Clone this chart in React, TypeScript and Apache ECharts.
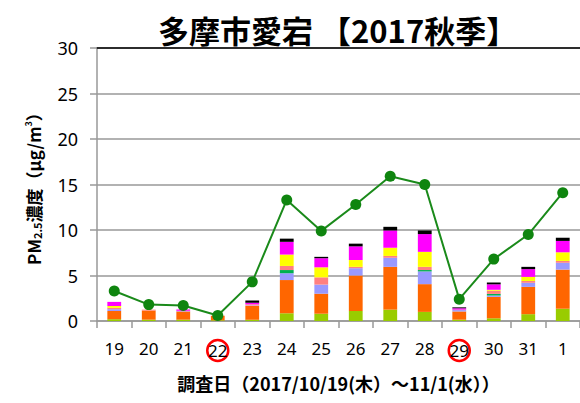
import React, { useEffect, useRef } from "react";
import * as echarts from "echarts";

const days = ["19", "20", "21", "22", "23", "24", "25", "26", "27", "28", "29", "30", "31", "1"];
const circled = ["22", "29"];
const yTicks = [0, 5, 10, 15, 20, 25, 30];

const compNames = ["c1", "c2", "c3", "c4", "c5", "c6", "c7", "c8"];
const compColors = ["#99CC00", "#FF6600", "#9999FF", "#00B050", "#FF8080", "#FFFF00", "#FF00FF", "#000000"];
const c1 = [0.2, 0.15, 0.15, 0.08, 0.15, 0.85, 0.8, 1.1, 1.25, 1.0, 0.15, 0.3, 0.75, 1.35];
const c2 = [0.9, 1.0, 0.9, 0.5, 1.5, 3.65, 2.2, 3.9, 4.7, 3.05, 0.9, 2.35, 3.0, 4.3];
const c3 = [0.2, 0, 0.07, 0, 0.05, 0.75, 1.0, 0.8, 1.0, 1.4, 0.15, 0.15, 0.45, 0.75];
const c4 = [0, 0, 0, 0, 0, 0.35, 0, 0, 0, 0.15, 0, 0.18, 0, 0];
const c5 = [0.15, 0.1, 0, 0, 0.15, 0.45, 0.8, 0.15, 0.2, 0.35, 0.05, 0.35, 0.2, 0.2];
const c6 = [0.2, 0, 0, 0, 0, 1.25, 1.1, 0.75, 0.9, 1.65, 0, 0.1, 0.45, 0.95];
const c7 = [0.45, 0, 0.15, 0, 0.15, 1.4, 1.0, 1.5, 1.9, 1.95, 0.15, 0.6, 0.85, 1.25];
const c8 = [0, 0, 0, 0, 0.25, 0.35, 0.15, 0.3, 0.4, 0.4, 0.1, 0.2, 0.25, 0.35];
const components = [c1, c2, c3, c4, c5, c6, c7, c8];

const pm25 = [3.3, 1.8, 1.7, 0.6, 4.3, 13.3, 9.9, 12.8, 15.9, 15.0, 2.4, 6.8, 9.5, 14.1];

const NUM_FONT = "'Noto Sans', sans-serif";
const JP_FONT = "'Noto Sans CJK JP', sans-serif";

export default function App() {
  const ref = useRef<HTMLDivElement>(null);
  useEffect(() => {
    if (!ref.current) return;
    const chart = echarts.init(ref.current, null, { renderer: "svg" });
    const barSeries = components.map((d, i) => ({
      name: compNames[i],
      type: "bar",
      stack: "total",
      data: d,
      barWidth: "40%",
      itemStyle: { color: compColors[i] },
      z: 2,
    }));
    chart.setOption({
      animation: false,
      title: {
        text: "多摩市愛宕 【2017秋季】",
        left: 153,
        top: 9,
        textStyle: { fontFamily: JP_FONT, fontWeight: "bold", fontSize: 31, color: "#000" },
      },
      grid: { left: 97, top: 48, width: 488, height: 273 },
      xAxis: [
        {
          type: "category",
          data: days,
          boundaryGap: true,
          axisLine: { lineStyle: { color: "#999", width: 1.5 } },
          axisTick: { show: true, length: 7, interval: 0, lineStyle: { color: "#999", width: 1.5 } },
          axisLabel: {
            interval: 0,
            margin: 19,
            fontFamily: NUM_FONT,
            fontSize: 17,
            color: "#000",
            formatter: (v: string) => (circled.includes(v) ? `{c|${v}}` : v),
            rich: {
              c: {
                fontFamily: NUM_FONT,
                fontSize: 17,
                color: "#000",
                borderColor: "#ff0000",
                borderWidth: 2.5,
                borderRadius: 11,
                width: 21,
                height: 21,
                lineHeight: 21,
                align: "center",
              },
            },
          },
          name: "調査日（2017/10/19(木）～11/1(水））",
          nameLocation: "middle",
          nameGap: 53,
          nameTextStyle: { fontFamily: JP_FONT, fontWeight: "bold", fontSize: 18, color: "#000" },
        },
        {
          type: "category",
          data: days,
          position: "top",
          axisLine: { show: true, lineStyle: { color: "#000", width: 1.5 } },
          axisTick: { show: false },
          axisLabel: { show: false },
        },
      ],
      yAxis: {
        type: "value",
        min: yTicks[0],
        max: yTicks[yTicks.length - 1],
        interval: 5,
        axisLine: { show: true, lineStyle: { color: "#999", width: 1.5 } },
        axisTick: { show: true, length: 7, lineStyle: { color: "#999", width: 1.5 } },
        splitLine: { lineStyle: { color: "#999", width: 1.5 } },
        axisLabel: { margin: 19, fontFamily: NUM_FONT, fontSize: 18, color: "#000" },
        name: "PM{s|2.5}濃度（μg/m{p|3}）",
        nameLocation: "middle",
        nameRotate: 90,
        nameGap: 55,
        nameTextStyle: {
          fontFamily: JP_FONT,
          fontWeight: "bold",
          fontSize: 17,
          color: "#000",
          rich: {
            s: { fontFamily: JP_FONT, fontWeight: "bold", fontSize: 11, color: "#000", verticalAlign: "bottom", padding: [7, 0, 0, 0] },
            p: { fontFamily: JP_FONT, fontWeight: "bold", fontSize: 9, color: "#000", verticalAlign: "top", padding: [0, 0, 9, 0] },
          },
        },
      },
      series: [
        ...barSeries,
        {
          name: "PM2.5",
          type: "line",
          data: pm25,
          symbol: "circle",
          symbolSize: 11,
          lineStyle: { color: "#1a8a1a", width: 2 },
          itemStyle: { color: "#0f850f" },
          z: 5,
        },
      ],
    });
    return () => chart.dispose();
  }, []);
  return <div ref={ref} style={{ position: "absolute", left: 0, top: 0, width: 580, height: 403 }} />;
}
